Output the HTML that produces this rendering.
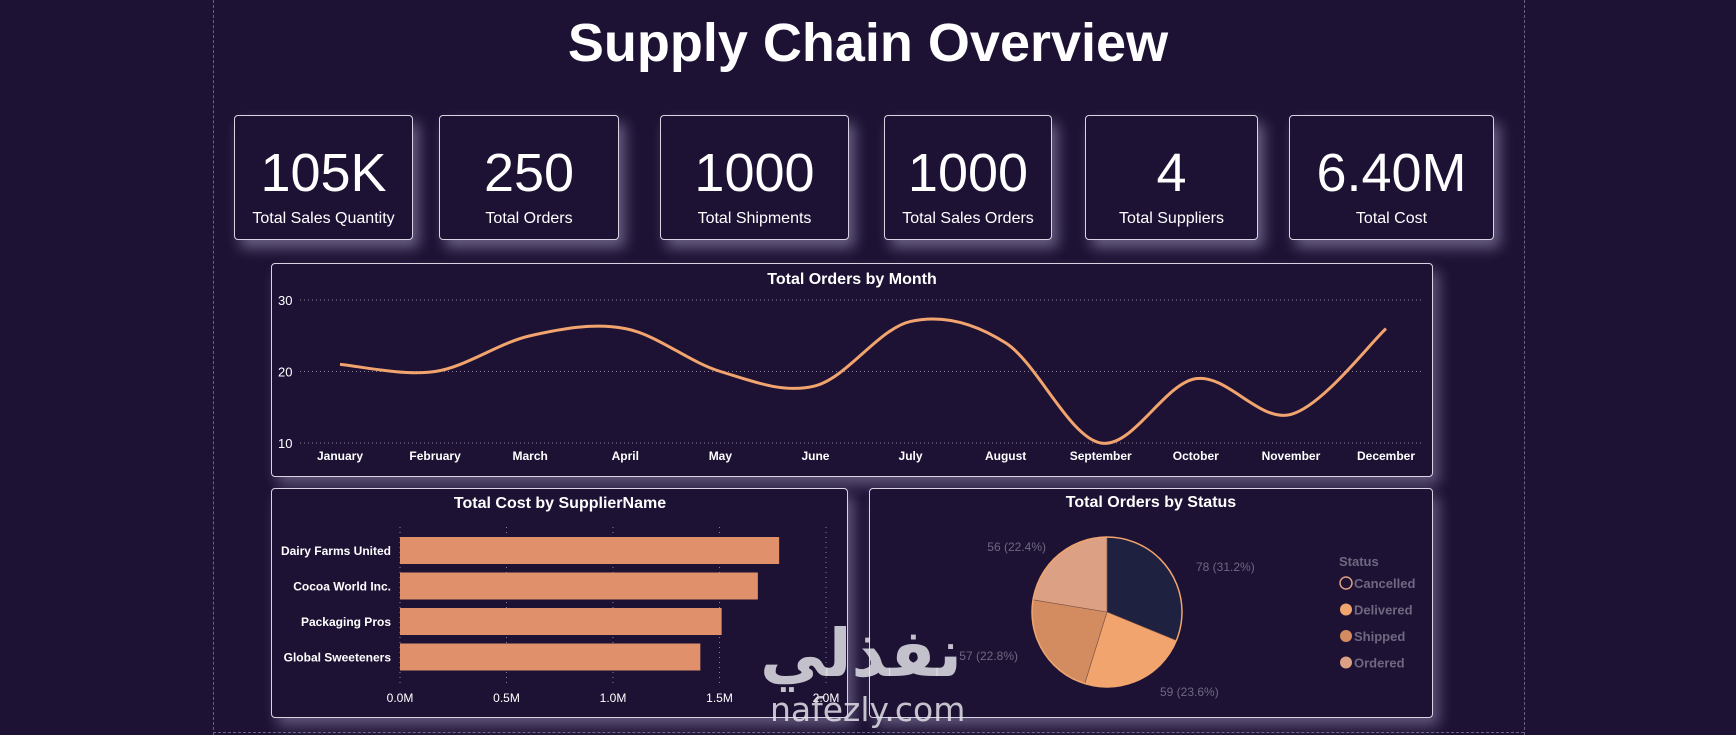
<!DOCTYPE html>
<html><head><meta charset="utf-8"><style>
body{margin:0;width:1736px;height:735px;background:#1d1234;overflow:hidden;font-family:"Liberation Sans Narrow","Liberation Sans",sans-serif;color:#fff;position:relative}
.vl{position:absolute;top:0;height:735px;border-left:1px dashed #6a6080}
.card{position:absolute;top:115px;height:125px;border:1px solid #d8d4e4;border-radius:4px;box-shadow:6px 8px 14px rgba(200,190,230,.45);background:#1d1234;text-align:center;box-sizing:border-box}
.card .n{position:absolute;left:0;right:0;top:30px;font-size:54px;line-height:54px}
.card .l{position:absolute;left:0;right:0;top:94px;font-size:16px;font-family:"Liberation Sans",sans-serif}
.panel{position:absolute;border:1px solid #d8d4e4;border-radius:4px;box-shadow:6px 8px 14px rgba(200,190,230,.4);background:#1d1234;box-sizing:border-box}
svg text{font-family:"Liberation Sans Narrow","Liberation Sans",sans-serif}
</style></head><body>
<div class="vl" style="left:213px"></div>
<div class="vl" style="left:1524px"></div>
<div style="position:absolute;left:213px;width:1311px;top:732px;border-top:1px dashed #6a6080"></div>
<div style="position:absolute;left:0;right:0;top:12px;text-align:center;font-size:54px;font-weight:bold;font-family:'Liberation Sans',sans-serif">Supply Chain Overview</div>

<div class="card" style="left:234px;width:179px"><div class="n">105K</div><div class="l">Total Sales Quantity</div></div>
<div class="card" style="left:439px;width:180px"><div class="n">250</div><div class="l">Total Orders</div></div>
<div class="card" style="left:660px;width:189px"><div class="n">1000</div><div class="l">Total Shipments</div></div>
<div class="card" style="left:884px;width:168px"><div class="n">1000</div><div class="l">Total Sales Orders</div></div>
<div class="card" style="left:1085px;width:173px"><div class="n">4</div><div class="l">Total Suppliers</div></div>
<div class="card" style="left:1289px;width:205px"><div class="n">6.40M</div><div class="l">Total Cost</div></div>

<div class="panel" style="left:271px;top:263px;width:1162px;height:214px"></div>
<div class="panel" style="left:271px;top:488px;width:577px;height:230px"></div>
<div class="panel" style="left:869px;top:488px;width:564px;height:230px"></div>

<svg id="chart" width="1736" height="735" style="position:absolute;left:0;top:0"></svg>

<div style="position:absolute;left:760px;top:600px;font-size:66px;font-weight:bold;color:rgba(225,225,230,.85);font-family:'Noto Sans CJK SC','DejaVu Sans',sans-serif">نفذلي</div>
<div style="position:absolute;left:770px;top:690px;font-size:33px;color:rgba(225,225,230,.85);font-family:'DejaVu Sans',sans-serif">nafezly.com</div>

<script>
const months=["January","February","March","April","May","June","July","August","September","October","November","December"];
const orders=[21,20,25,26,20,18,27,24,10,19,14,26];
const yTicks=[10,20,30];
const suppliers=["Dairy Farms United","Cocoa World Inc.","Packaging Pros","Global Sweeteners"];
const costs=[1.78,1.68,1.51,1.41];
const xTicks=[0,0.5,1.0,1.5,2.0];
const statuses=["Cancelled","Delivered","Shipped","Ordered"];
const statusCounts=[78,59,57,56];
const statusColors=["#1f2140","#f2a46e","#d28c60","#dca084"];

const svg=document.getElementById('chart');
const NS='http://www.w3.org/2000/svg';
function mk(t,a,txt){const e=document.createElementNS(NS,t);for(const k in a)e.setAttribute(k,a[k]);if(txt!=null)e.textContent=txt;svg.appendChild(e);return e;}

// line chart
let e=mk('text',{x:852,y:284,'text-anchor':'middle','font-size':16,'font-weight':'bold',fill:'#fff'},'Total Orders by Month');


const lx=i=>340+i*(1386-340)/(months.length-1);
const ly=v=>443-(v-10)*(443-300)/20;
yTicks.forEach(t=>{
 let g=mk('line',{x1:300,x2:1422,y1:ly(t),y2:ly(t),stroke:'#8a8298','stroke-dasharray':'1 3'});
 
 
 let tx=mk('text',{x:278,y:ly(t)+5,'font-size':13,fill:'#fff'},t);
 
 
});
months.forEach((m,i)=>{
 let tx=mk('text',{x:lx(i),y:460,'text-anchor':'middle','font-size':12,'font-weight':'bold',fill:'#fff'},m);
 
 
});
const pts=orders.map((v,i)=>[lx(i),ly(v)]);
let d='M'+pts[0][0]+','+pts[0][1];
for(let i=0;i<pts.length-1;i++){
 const p0=pts[Math.max(0,i-1)],p1=pts[i],p2=pts[i+1],p3=pts[Math.min(pts.length-1,i+2)];
 const c1=[p1[0]+(p2[0]-p0[0])/6,p1[1]+(p2[1]-p0[1])/6],c2=[p2[0]-(p3[0]-p1[0])/6,p2[1]-(p3[1]-p1[1])/6];
 d+=` C${c1[0]},${c1[1]} ${c2[0]},${c2[1]} ${p2[0]},${p2[1]}`;
}
let ln=mk('path',{d:d,fill:'none',stroke:'#f2a46e','stroke-width':3});



// bar chart
e=mk('text',{x:560,y:508,'text-anchor':'middle','font-size':16,'font-weight':'bold',fill:'#fff'},'Total Cost by SupplierName');


const bx=v=>400+v*(826-400)/2;
xTicks.forEach(t=>{
 let g=mk('line',{x1:bx(t),x2:bx(t),y1:527,y2:685,stroke:'#8a8298','stroke-dasharray':'1 4'});
 
 
 let tx=mk('text',{x:bx(t),y:702,'text-anchor':'middle','font-size':12,fill:'#fff'},t.toFixed(1)+'M');
 
 
});
suppliers.forEach((s,i)=>{
 const y=537+i*35.5;
 let r=mk('rect',{x:bx(0),y:y,width:bx(costs[i])-bx(0),height:27,fill:'#e0916c'});
 
 
 let tx=mk('text',{x:391,y:y+18,'text-anchor':'end','font-size':12,'font-weight':'bold',fill:'#fff'},s);
 
 
});

// pie chart
e=mk('text',{x:1151,y:507,'text-anchor':'middle','font-size':16,'font-weight':'bold',fill:'#fff'},'Total Orders by Status');


const cx=1107,cy=612,R=75,total=statusCounts.reduce((a,b)=>a+b,0);
let a0=-Math.PI/2;
const labelPos=[[1196,571,'start'],[1160,696,'start'],[1018,660,'end'],[1046,551,'end']];
statusCounts.forEach((c,i)=>{
 const a1=a0+c/total*2*Math.PI;
 const large=(a1-a0)>Math.PI?1:0;
 let p=mk('path',{d:`M${cx},${cy} L${cx+R*Math.cos(a0)},${cy+R*Math.sin(a0)} A${R},${R} 0 ${large} 1 ${cx+R*Math.cos(a1)},${cy+R*Math.sin(a1)} Z`,fill:statusColors[i],stroke:'#7a5040','stroke-width':0.6});
 
 
 const lp=labelPos[i];
 let tx=mk('text',{x:lp[0],y:lp[1],'text-anchor':lp[2],'font-size':12,fill:'#6f6880'},c+' ('+(c/total*100).toFixed(1)+'%)');
 
 
 a0=a1;
});
let ring=mk('circle',{cx:cx,cy:cy,r:R,fill:'none',stroke:'#f2a46e','stroke-width':1.5});


e=mk('text',{x:1339,y:566,'font-size':13,'font-weight':'bold',fill:'#6f6880'},'Status');


statuses.forEach((s,i)=>{
 const y=583+i*26.5;
 let c=mk('circle',{cx:1346,cy:y,r:6,fill:i==0?'none':statusColors[i],stroke:i==0?'#dca084':'none','stroke-width':1.5});
 
 
 let tx=mk('text',{x:1354,y:y+5,'font-size':13,'font-weight':'bold',fill:'#6f6880'},s);
 
 
});
</script>
</body></html>
